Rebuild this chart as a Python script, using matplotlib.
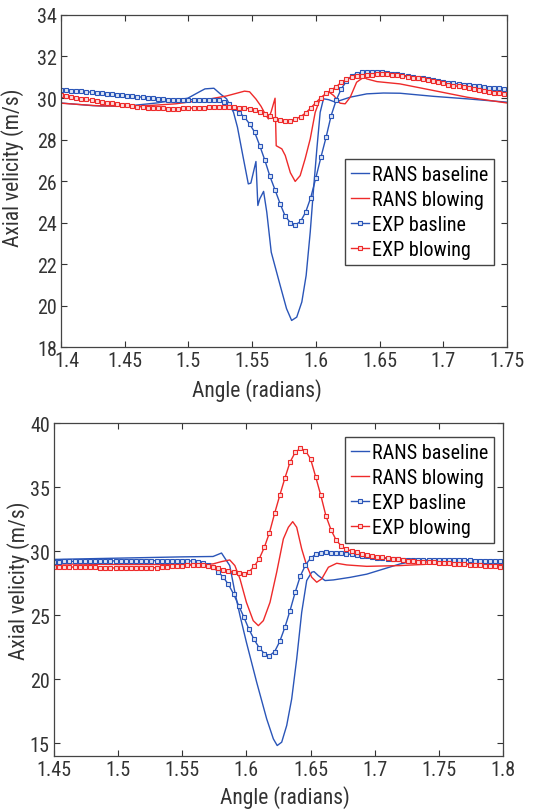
import matplotlib

matplotlib.use("Agg")
import matplotlib.pyplot as plt
import matplotlib.transforms as mtransforms
import numpy as np

plt.rcParams["font.family"] = ["Roboto Condensed", "DejaVu Sans"]

BLUE = "#2a55b8"
RED = "#ee2a2a"

# ---- top panel: RANS lines (hand-read knots) ----
top_rans_base_x = [1.400, 1.425, 1.450, 1.475, 1.4995, 1.509, 1.513, 1.520, 1.525, 1.530,
                   1.5354, 1.5385, 1.5427, 1.547, 1.549, 1.553, 1.5545, 1.556, 1.559, 1.5615,
                   1.565, 1.572, 1.577, 1.581, 1.585, 1.589, 1.5924, 1.5956, 1.598, 1.6008,
                   1.6034, 1.606, 1.610, 1.614, 1.619, 1.627, 1.640, 1.653, 1.666, 1.6924,
                   1.7186, 1.750]
top_rans_base_y = [29.76, 29.63, 29.60, 29.76, 29.99, 30.31, 30.44, 30.47, 30.20, 29.96,
                   29.31, 28.59, 27.23, 25.86, 25.90, 26.94, 24.82, 25.14, 25.50, 24.50,
                   22.57, 20.97, 19.85, 19.28, 19.44, 20.17, 21.45, 23.54, 25.46, 27.55,
                   29.31, 29.96, 29.92, 29.83, 29.88, 30.04, 30.20, 30.24, 30.23, 30.08,
                   29.96, 29.80]

top_rans_blow_x = [1.400, 1.430, 1.460, 1.490, 1.510, 1.530, 1.544, 1.548, 1.553, 1.557,
                   1.5605, 1.5628, 1.5650, 1.5680, 1.5689, 1.5733, 1.576, 1.580, 1.5838, 1.5877,
                   1.5916, 1.5956, 1.5995, 1.6034, 1.610, 1.614, 1.619, 1.623, 1.627, 1.632,
                   1.6375, 1.640, 1.648, 1.666, 1.6924, 1.7186, 1.750]
top_rans_blow_y = [29.75, 29.62, 29.60, 29.72, 29.88, 30.10, 30.33, 30.30, 29.95, 29.60,
                   29.20, 28.99, 29.35, 29.99, 27.70, 27.55, 27.23, 26.40, 25.98, 26.26,
                   27.07, 28.03, 29.31, 29.96, 30.30, 30.12, 29.75, 29.72, 30.04, 30.76,
                   31.00, 30.92, 30.79, 30.68, 30.36, 30.04, 29.76]

# ---- top panel: experiment, sampled every 0.004 rad from 1.400 ----
top_exp_x = np.round(1.400 + 0.004 * np.arange(88), 3)
top_exp_base = [30.40, 30.38, 30.36, 30.34, 30.32, 30.30, 30.28, 30.26, 30.23, 30.21,
                30.19, 30.16, 30.13, 30.11, 30.08, 30.06, 30.04, 30.01, 29.98, 29.96,
                29.93, 29.92, 29.91, 29.91, 29.91, 29.92, 29.92, 29.92, 29.92, 29.91,
                29.90, 29.88, 29.80, 29.70, 29.50, 29.30, 29.08, 28.75, 28.35, 27.70,
                27.00, 26.22, 25.57, 24.90, 24.30, 24.00, 23.89, 24.05, 24.50, 25.20,
                26.15, 27.15, 28.10, 29.15, 29.90, 30.45, 30.80, 31.07, 31.18, 31.24,
                31.26, 31.27, 31.26, 31.24, 31.22, 31.18, 31.14, 31.10, 31.06, 31.02,
                30.98, 30.94, 30.90, 30.85, 30.81, 30.77, 30.74, 30.71, 30.68, 30.65,
                30.62, 30.59, 30.56, 30.53, 30.50, 30.48, 30.46, 30.44]
top_exp_blow = [30.15, 30.10, 30.05, 30.01, 29.97, 29.93, 29.89, 29.85, 29.81, 29.77,
                29.74, 29.71, 29.68, 29.65, 29.62, 29.59, 29.57, 29.54, 29.52, 29.51,
                29.50, 29.49, 29.49, 29.49, 29.50, 29.51, 29.52, 29.53, 29.54, 29.55,
                29.55, 29.56, 29.56, 29.56, 29.55, 29.54, 29.52, 29.48, 29.42, 29.34,
                29.24, 29.12, 29.00, 28.93, 28.90, 28.90, 28.98, 29.10, 29.28, 29.52,
                29.78, 30.02, 30.22, 30.38, 30.55, 30.75, 30.90, 30.99, 31.04, 31.08,
                31.11, 31.13, 31.15, 31.16, 31.15, 31.12, 31.09, 31.06, 31.02, 30.98,
                30.94, 30.90, 30.85, 30.80, 30.75, 30.70, 30.65, 30.60, 30.56, 30.52,
                30.48, 30.44, 30.40, 30.35, 30.30, 30.26, 30.23, 30.20]

# ---- bottom panel: RANS lines ----
bot_rans_base_x = [1.450, 1.500, 1.550, 1.574, 1.5806, 1.587, 1.591, 1.595, 1.600, 1.608,
                   1.6158, 1.621, 1.624, 1.6275, 1.6314, 1.6353, 1.6392, 1.6431, 1.647, 1.6509,
                   1.6527, 1.656, 1.6613, 1.6678, 1.6808, 1.6938, 1.7068, 1.7198, 1.7328, 1.7459,
                   1.7719, 1.800]
bot_rans_base_y = [29.35, 29.45, 29.55, 29.58, 29.85, 28.87, 26.80, 24.96, 22.88, 19.76,
                   16.90, 15.34, 14.82, 15.08, 16.38, 18.46, 21.58, 25.22, 27.70, 28.35,
                   28.40, 28.09, 27.70, 27.75, 27.95, 28.20, 28.60, 29.00, 29.26, 29.33,
                   29.33, 29.26]

bot_rans_blow_x = [1.450, 1.500, 1.550, 1.574, 1.5806, 1.587, 1.591, 1.595, 1.600, 1.6053,
                   1.6093, 1.6132, 1.6184, 1.6236, 1.6288, 1.6327, 1.6361, 1.6392, 1.6431, 1.647,
                   1.6509, 1.6548, 1.6587, 1.6639, 1.6704, 1.6782, 1.6938, 1.7198, 1.7459, 1.7719,
                   1.800]
bot_rans_blow_y = [29.00, 28.95, 28.95, 29.00, 29.18, 29.31, 28.87, 27.83, 26.00, 24.57,
                   24.18, 24.57, 26.00, 28.35, 30.95, 31.86, 32.30, 31.86, 30.17, 28.87,
                   27.96, 27.57, 27.83, 28.74, 29.05, 28.92, 28.81, 28.87, 29.00, 29.00,
                   28.94]

# ---- bottom panel: experiment, sampled every 0.004 rad from 1.450 ----
bot_exp_x = np.round(1.450 + 0.004 * np.arange(88), 3)
bot_exp_base = [29.18, 29.18, 29.19, 29.19, 29.20, 29.20, 29.21, 29.21, 29.22, 29.22,
                29.23, 29.23, 29.24, 29.24, 29.24, 29.25, 29.25, 29.25, 29.26, 29.26,
                29.26, 29.26, 29.26, 29.26, 29.26, 29.26, 29.25, 29.22, 29.16, 29.06,
                28.92, 28.72, 28.40, 27.95, 27.40, 26.65, 25.75, 24.85, 23.90, 23.10,
                22.45, 22.00, 21.84, 22.15, 22.95, 24.05, 25.35, 26.78, 28.05, 28.90,
                29.45, 29.75, 29.87, 29.91, 29.89, 29.86, 29.83, 29.79, 29.74, 29.69,
                29.64, 29.59, 29.54, 29.50, 29.46, 29.42, 29.38, 29.35, 29.33, 29.31,
                29.30, 29.29, 29.28, 29.28, 29.28, 29.28, 29.28, 29.28, 29.28, 29.28,
                29.28, 29.27, 29.26, 29.25, 29.23, 29.22, 29.21, 29.20]
bot_exp_blow = [28.79, 28.78, 28.77, 28.76, 28.75, 28.74, 28.74, 28.73, 28.72, 28.71,
                28.70, 28.69, 28.68, 28.68, 28.68, 28.68, 28.68, 28.68, 28.68, 28.69,
                28.71, 28.73, 28.76, 28.80, 28.84, 28.87, 28.89, 28.91, 28.92, 28.90,
                28.83, 28.74, 28.65, 28.55, 28.45, 28.35, 28.27, 28.22, 28.38, 28.80,
                29.40, 30.30, 31.45, 32.95, 34.35, 35.70, 36.95, 37.70, 38.02, 37.85,
                37.20, 35.80, 34.35, 32.75, 31.65, 30.85, 30.40, 30.15, 30.00, 29.90,
                29.80, 29.70, 29.63, 29.57, 29.51, 29.46, 29.41, 29.36, 29.31, 29.26,
                29.21, 29.18, 29.16, 29.14, 29.13, 29.11, 29.08, 29.05, 29.02, 28.99,
                28.96, 28.94, 28.91, 28.88, 28.85, 28.83, 28.81, 28.79]

xticks_top = [1.4, 1.45, 1.5, 1.55, 1.6, 1.65, 1.7, 1.75]
xticklabels_top = ["1.4", "1.45", "1.5", "1.55", "1.6", "1.65", "1.7", "1.75"]
yticks_top = [18, 20, 22, 24, 26, 28, 30, 32, 34]
xticks_bot = [1.45, 1.5, 1.55, 1.6, 1.65, 1.7, 1.75, 1.8]
xticklabels_bot = ["1.45", "1.5", "1.55", "1.6", "1.65", "1.7", "1.75", "1.8"]
yticks_bot = [15, 20, 25, 30, 35, 40]

labels = ["RANS baseline", "RANS blowing", "EXP basline", "EXP blowing"]

fig = plt.figure(figsize=(5.42, 8.12), dpi=100)
ax1 = fig.add_axes([0.1125, 0.5714, 0.8229, 0.4089])
ax2 = fig.add_axes([0.0996, 0.0677, 0.8284, 0.4101])

exp_style = dict(lw=1.0, marker="s", ms=2.6, mew=0.8)


def draw_panel(ax, rb_x, rb_y, rw_x, rw_y, ex, eb, ew):
    ax.plot(rb_x, rb_y, color=BLUE, lw=1.0, label=labels[0])
    ax.plot(rw_x, rw_y, color=RED, lw=1.0, label=labels[1])
    ax.plot(ex, eb, color=BLUE, mec=BLUE, mfc="#dde6f5", label=labels[2], **exp_style)
    ax.plot(ex, ew, color=RED, mec=RED, mfc="#fbdcdc", label=labels[3], **exp_style)
    ax.tick_params(direction="in", top=True, right=True, length=4, width=0.8,
                   labelsize=14.5, pad=3, colors="#333333")
    for s in ax.spines.values():
        s.set_color("#444444")
        s.set_linewidth(0.9)
    ax.set_xlabel("Angle (radians)", fontsize=15.5, color="#333333")
    ax.set_ylabel("Axial velicity (m/s)", fontsize=15.5, color="#333333")
    return ax.legend(loc="upper right", fontsize=14.5, handlelength=0.9, handletextpad=0.15,
                     borderpad=0.3, labelspacing=0.3, borderaxespad=0, fancybox=False,
                     framealpha=1, edgecolor="#444444")


leg1 = draw_panel(ax1, top_rans_base_x, top_rans_base_y, top_rans_blow_x, top_rans_blow_y,
                  top_exp_x, top_exp_base, top_exp_blow)
ax1.set_xlim(1.4, 1.75)
ax1.set_ylim(18, 34)
ax1.set_xticks(xticks_top, xticklabels_top)
ax1.set_yticks(yticks_top)
leg1.set_bbox_to_anchor((0.971, 0.566), transform=ax1.transAxes)
ax1.xaxis.set_label_coords(0.44, -0.093)
ax1.yaxis.set_label_coords(-0.082, 0.542)
# first x label sits a bit right of its tick, clear of the "18"
lbl = ax1.get_xticklabels()[0]
lbl.set_transform(lbl.get_transform() + mtransforms.ScaledTranslation(6 / 100, 0, fig.dpi_scale_trans))

leg2 = draw_panel(ax2, bot_rans_base_x, bot_rans_base_y, bot_rans_blow_x, bot_rans_blow_y,
                  bot_exp_x, bot_exp_base, bot_exp_blow)
ax2.set_xlim(1.45, 1.8)
ax2.set_ylim(14, 40)
ax2.set_xticks(xticks_bot, xticklabels_bot)
ax2.set_yticks(yticks_bot)
leg2.set_bbox_to_anchor((0.98, 0.959), transform=ax2.transAxes)
ax2.xaxis.set_label_coords(0.514, -0.088)
ax2.yaxis.set_label_coords(-0.054, 0.528)

fig.savefig("out.png", dpi=100)
